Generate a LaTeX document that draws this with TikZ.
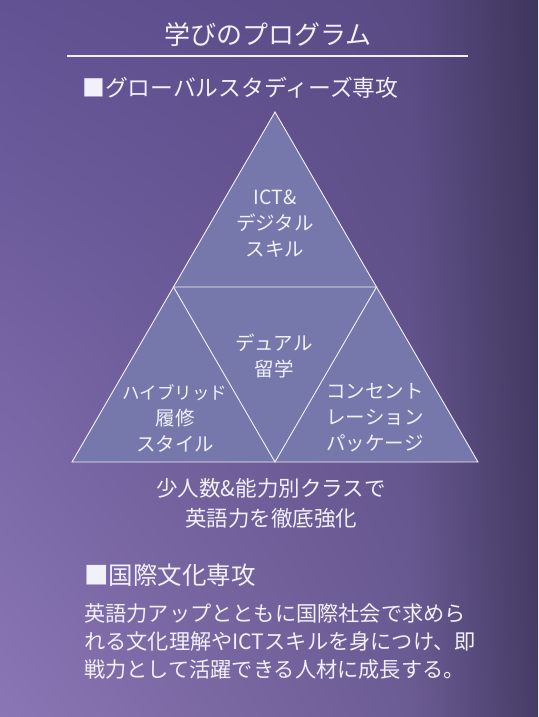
\documentclass[tikz,border=0pt]{standalone}
\usepackage{fontspec}
\usetikzlibrary{shadings}
\newfontfamily\jp{Noto Sans CJK JP}
\definecolor{bgUL}{RGB}{98,82,148}
\definecolor{bgUM}{RGB}{90,74,132}
\definecolor{bgUR}{RGB}{62,54,92}
\definecolor{bgLL}{RGB}{138,118,180}
\definecolor{bgLM}{RGB}{108,92,148}
\definecolor{bgLR}{RGB}{70,60,102}
\definecolor{trifill}{RGB}{118,120,171}
\definecolor{txtc}{RGB}{242,240,248}
\begin{document}
\begin{tikzpicture}[x=1pt,y=-1pt,
  tri/.style={draw=txtc, line width=0.9pt, line join=miter},
  lbl/.style={text=txtc, align=center, inner sep=0pt, font=\jp\fontsize{19.5}{26}\selectfont},
  head/.style={text=txtc, inner sep=0pt, anchor=west}]
\useasboundingbox (0,0) rectangle (538,717);
\shade[upper left=bgUL, upper right=bgUM, lower left=bgLL, lower right=bgLM] (0,0) rectangle (410,717);
\shade[upper left=bgUM, upper right=bgUR, lower left=bgLM, lower right=bgLR] (410,0) rectangle (538,717);
% title
\node[text=txtc, inner sep=0pt, font=\jp\fontsize{26}{30}\selectfont] (title) at (268,35) {学びのプログラム};
\coordinate (rl) at (67,56);
\coordinate (rr) at (468,56);
\draw[txtc, line width=1.1pt] (rl) -- (rr);
\node[head, font=\jp\fontsize{22.8}{26}\selectfont] (h1) at (82,88) {■グローバルスタディーズ専攻};
% triangle
\coordinate (A) at (275,112);
\coordinate (B) at (72,462);
\coordinate (C) at (478,462);
\coordinate (AB) at (173.5,287);
\coordinate (AC) at (376.5,287);
\coordinate (BC) at (275,462);
\fill[trifill] (A) -- (B) -- (C) -- cycle;
\draw[tri] (A) -- (B) -- (C) -- cycle;
\draw[tri] (AB) -- (AC) -- (BC) -- cycle;
\node[lbl] (t1) at (275,224) {ICT\&\\デジタル\\スキル};
\node[lbl] (t2) at (274,356) {デュアル\\留学};
\node[lbl] (t3) at (175,418) {{\fontsize{17.5}{26}\selectfont ハイブリッド}\\履修\\スタイル};
\node[lbl] (t4) at (375,418) {コンセント\\レーション\\パッケージ};
% below
\node[text=txtc, align=center, inner sep=0pt, font=\jp\fontsize{21.5}{30}\selectfont] (sub) at (271,503) {少人数\&能力別クラスで\\英語力を徹底強化};
\node[head, font=\jp\fontsize{24.5}{28}\selectfont] (h2) at (84,575) {■国際文化専攻};
\node[text=txtc, align=left, inner sep=0pt, anchor=north west, font=\jp\fontsize{21.2}{28}\selectfont] (para) at (84,603) {英語力アップとともに国際社会で求めら\\れる文化理解やICTスキルを身につけ、即\\戦力として活躍できる人材に成長する。};
\end{tikzpicture}
\end{document}
